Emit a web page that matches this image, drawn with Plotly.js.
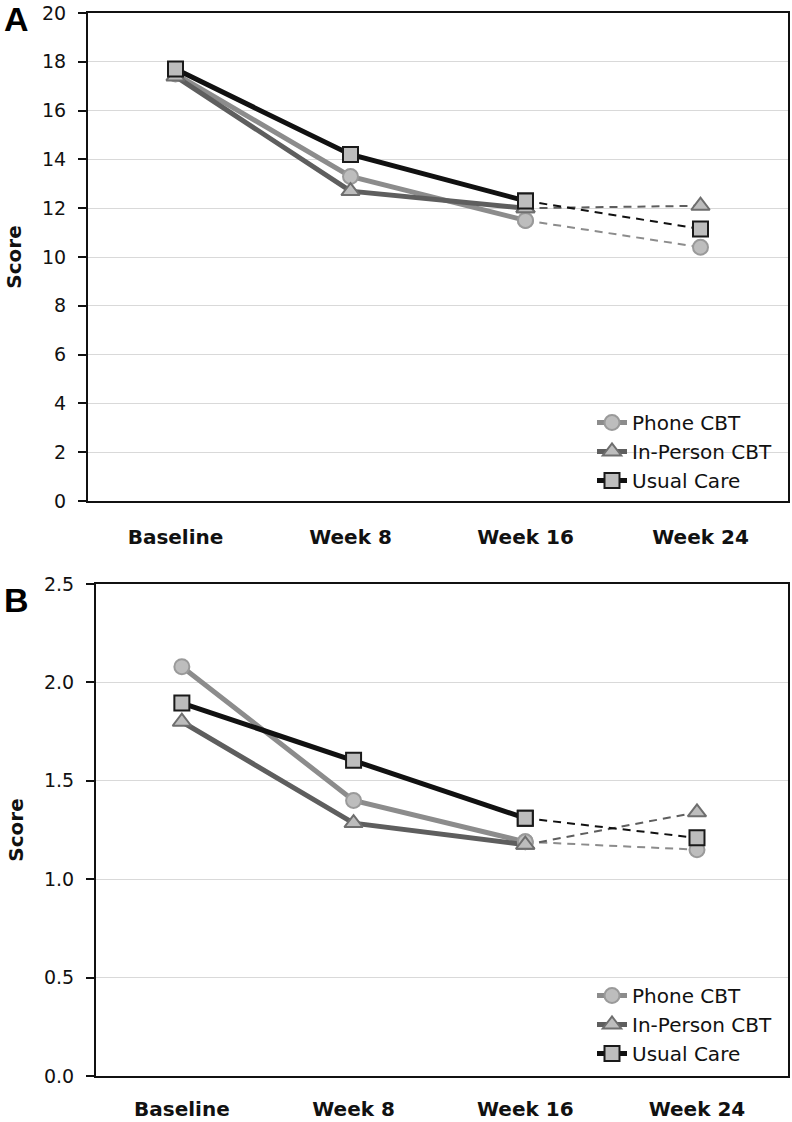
<!DOCTYPE html>
<html>
<head>
<meta charset="utf-8">
<script src="https://cdn.plot.ly/plotly-3.0.1.min.js"></script>
<style>html,body{margin:0;padding:0;background:#fff;}#chart{width:792px;height:1122px;}</style>
</head>
<body>
<div id="chart"></div>
<script>
// ---- data ----
var categories = ["Baseline", "Week 8", "Week 16", "Week 24"];
var seriesNames = ["Phone CBT", "In-Person CBT", "Usual Care"];

// Panel A scores
var phoneA    = [17.5, 13.3, 11.5, 10.4];
var inPersonA = [17.4, 12.7, 12.0, 12.1];
var usualA    = [17.7, 14.2, 12.3, 11.15];

// Panel B scores
var phoneB    = [2.08, 1.40, 1.19, 1.15];
var inPersonB = [1.80, 1.285, 1.175, 1.34];
var usualB    = [1.895, 1.605, 1.31, 1.21];

var yTicksA = [0, 2, 4, 6, 8, 10, 12, 14, 16, 18, 20];
var yTicksB = [0, 0.5, 1.0, 1.5, 2.0, 2.5];

// ---- styles ----
var W = 792, H = 1122;
var lineColors = ["#8c8c8c", "#5e5e5e", "#111111"];
var symbols = ["circle", "triangle-up", "square"];
var markerSizes = [15, 16, 15];
var markerBorder = ["#9a9a9a", "#6e6e6e", "#1a1a1a"];
var markerFill = "#bdbdbd";
var FONT = "DejaVu Sans, Verdana, sans-serif";

function px2fx(x) { return x / W; }
function py2fy(y) { return 1 - y / H; }

var traces = [];
function addPanel(data, xa, ya, legendId) {
  // solid parts (Baseline -> Week 16)
  data.forEach(function (vals, i) {
    traces.push({
      type: "scatter", mode: "lines+markers",
      x: categories.slice(0, 3), y: vals.slice(0, 3),
      xaxis: xa, yaxis: ya, name: seriesNames[i], legend: legendId,
      line: {color: lineColors[i], width: 5},
      marker: {symbol: symbols[i], size: markerSizes[i], color: markerFill,
               line: {color: markerBorder[i], width: 2}},
      hoverinfo: "x+y+name"
    });
  });
  // dashed parts (Week 16 -> Week 24)
  data.forEach(function (vals, i) {
    traces.push({
      type: "scatter", mode: "lines",
      x: categories.slice(2), y: vals.slice(2),
      xaxis: xa, yaxis: ya, showlegend: false, legend: legendId,
      line: {color: lineColors[i], width: 2, dash: "8px,6px"},
      hoverinfo: "skip"
    });
  });
  // markers on top
  data.forEach(function (vals, i) {
    traces.push({
      type: "scatter", mode: "markers",
      x: categories.slice(2), y: vals.slice(2),
      xaxis: xa, yaxis: ya, showlegend: false, legend: legendId,
      marker: {symbol: symbols[i], size: markerSizes[i], color: markerFill,
               line: {color: markerBorder[i], width: 2}},
      name: seriesNames[i]
    });
  });
}
addPanel([phoneA, inPersonA, usualA], "x", "y", "legend");
addPanel([phoneB, inPersonB, usualB], "x2", "y2", "legend2");

function xAxis(domain, range, anchor, standoff) {
  return {
    domain: domain, anchor: anchor, type: "category",
    categoryorder: "array", categoryarray: categories,
    range: range, showgrid: false, zeroline: false,
    showline: true, mirror: true, linecolor: "#111", linewidth: 2,
    ticks: "", ticklabelstandoff: standoff,
    tickfont: {family: FONT, size: 20, color: "#111", weight: "bold"}
  };
}
function yAxis(domain, range, tickvals, fmt, anchor) {
  return {
    domain: domain, anchor: anchor, range: range,
    tickmode: "array", tickvals: tickvals, tickformat: fmt,
    showgrid: true, gridcolor: "#d9d9d9", gridwidth: 1, zeroline: false,
    showline: true, mirror: true, linecolor: "#111", linewidth: 2,
    ticks: "outside", ticklen: 8, tickwidth: 2, tickcolor: "#111",
    ticklabelstandoff: 8, ticklabeloverflow: "allow",
    tickfont: {family: FONT, size: 19, color: "#111"},
    title: {text: "Score", standoff: 15,
            font: {family: FONT, size: 20, color: "#111", weight: "bold"}}
  };
}

var layout = {
  width: W, height: H,
  margin: {l: 0, r: 0, t: 0, b: 0, autoexpand: false},
  paper_bgcolor: "#fff", plot_bgcolor: "#fff",
  showlegend: true,
  xaxis:  xAxis([px2fx(88), px2fx(788)], [-0.5, 3.5], "y", 17),
  yaxis:  yAxis([py2fy(501), py2fy(13)], [0, 20], yTicksA, "d", "x"),
  xaxis2: xAxis([px2fx(96), px2fx(788)], [-0.5, 3.53], "y2", 14),
  yaxis2: yAxis([py2fy(1076), py2fy(584)], [0, 2.5], yTicksB, ".1f", "x2"),
  legend: {
    x: px2fx(778), xanchor: "right", y: py2fy(500), yanchor: "bottom",
    bgcolor: "rgba(255,255,255,0)", borderwidth: 0,
    font: {family: FONT, size: 20, color: "#111"},
    tracegroupgap: 0, itemwidth: 30
  },
  legend2: {
    x: px2fx(778), xanchor: "right", y: py2fy(1073), yanchor: "bottom",
    bgcolor: "rgba(255,255,255,0)", borderwidth: 0,
    font: {family: FONT, size: 20, color: "#111"},
    tracegroupgap: 0, itemwidth: 30
  },
  annotations: [
    {text: "A", xref: "paper", yref: "paper", x: px2fx(16), y: py2fy(19),
     xanchor: "center", yanchor: "middle", showarrow: false,
     font: {family: "Liberation Sans, Arial, sans-serif", size: 34, color: "#000", weight: "bold"}},
    {text: "B", xref: "paper", yref: "paper", x: px2fx(16), y: py2fy(600),
     xanchor: "center", yanchor: "middle", showarrow: false,
     font: {family: "Liberation Sans, Arial, sans-serif", size: 34, color: "#000", weight: "bold"}}
  ]
};

Plotly.newPlot("chart", traces, layout, {displayModeBar: false, staticPlot: true});
</script>
</body>
</html>
